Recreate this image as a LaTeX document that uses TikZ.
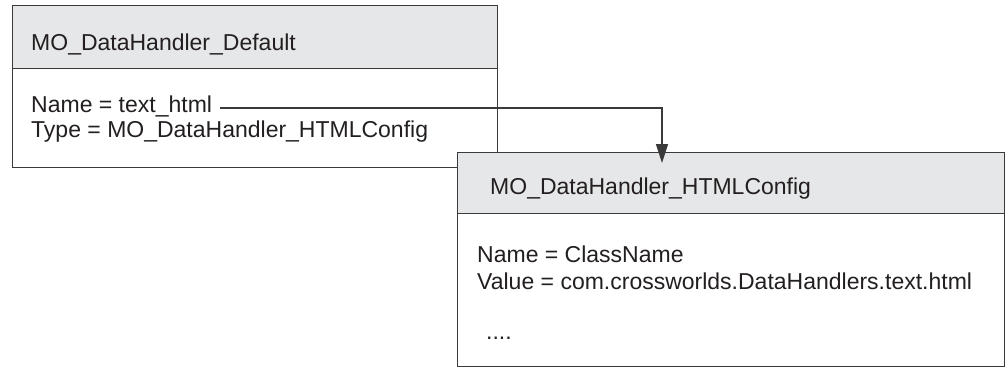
\documentclass[tikz,border=0pt]{standalone}
\usepackage{fontspec}
\setmainfont{Liberation Sans}
\usetikzlibrary{arrows.meta}
\definecolor{hdrgray}{HTML}{E6E7E8}
\definecolor{linegray}{HTML}{3A3A3A}
\definecolor{txt}{HTML}{231F20}
\begin{document}
\begin{tikzpicture}[x=1pt,y=-1pt,
  boxpart/.style={draw=linegray, line width=1.3pt, rectangle, anchor=north west, inner sep=0pt},
  hdr/.style={boxpart, fill=hdrgray},
  bdy/.style={boxpart, fill=white},
  lbl/.style={anchor=base west, inner sep=0pt, text=txt, font=\fontsize{23pt}{26pt}\selectfont},
  conn/.style={draw=linegray, line width=1.3pt, -{Triangle[length=19pt,width=12pt]}}]
\useasboundingbox (0,0) rectangle (1005,367);
% Box 1
\node[bdy, minimum width=485pt, minimum height=162pt] (b1) at (12,5) {};
\node[hdr, minimum width=485pt, minimum height=63pt] (h1) at (12,5) {};
\node[lbl] (t1) at (31,50) {MO\_DataHandler\_Default};
\node[lbl] (n1) at (31,112) {Name = text\_html};
\node[lbl] (y1) at (31,137) {Type = MO\_DataHandler\_HTMLConfig};
% Box 2
\node[bdy, minimum width=547pt, minimum height=214pt] (b2) at (457,152) {};
\node[hdr, minimum width=547pt, minimum height=61pt] (h2) at (457,152) {};
\node[lbl] (t2) at (490,194) {MO\_DataHandler\_HTMLConfig};
\node[lbl] (n2) at (477,262) {Name = ClassName};
\node[lbl] (v2) at (477,289) {Value = com.crossworlds.DataHandlers.text.html};
\node[lbl] (d2) at (486,339) {....};
% Connector
\coordinate (src) at (220,108);
\coordinate (tip) at (662,163);
\draw[conn] (src) -| (tip);
\end{tikzpicture}
\end{document}
